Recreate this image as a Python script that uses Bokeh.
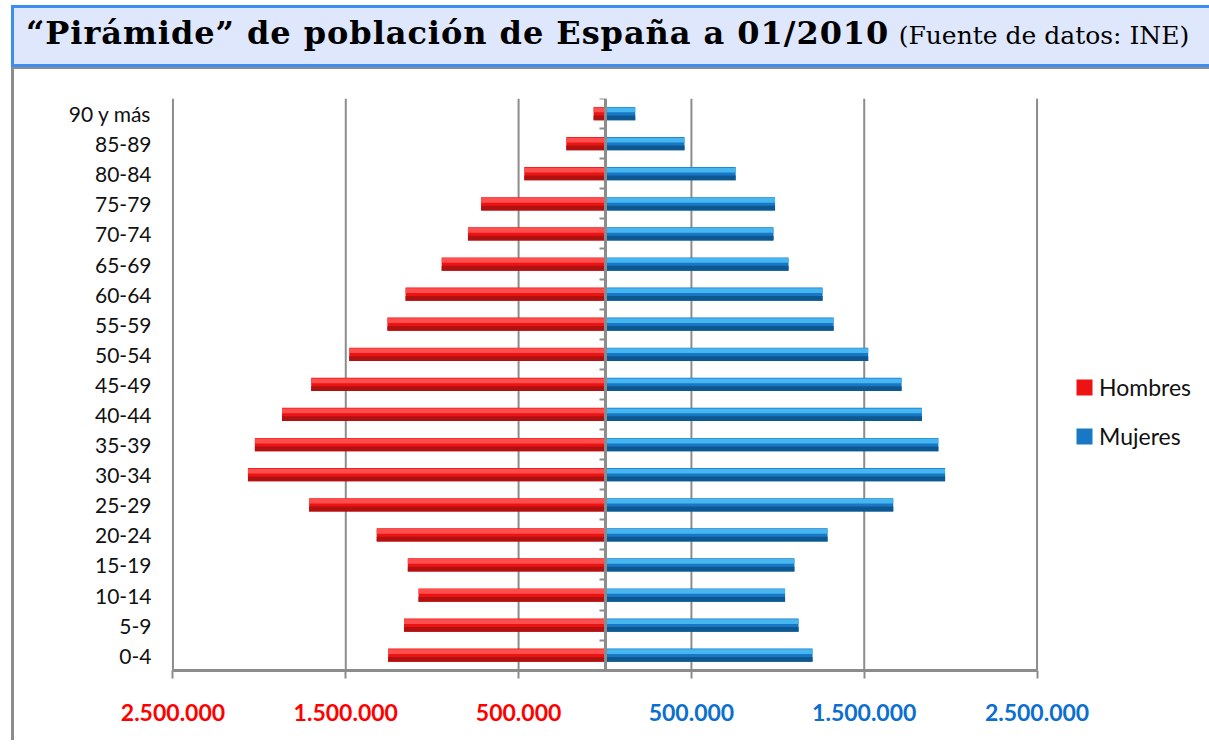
import numpy as np
from bokeh.plotting import figure
from bokeh.models import (ColumnDataSource, FixedTicker, LinearAxis, Range1d, Div,
                          Legend, LegendItem, CustomJSTickFormatter)
from bokeh.core.properties import value
from bokeh.layouts import column
from bokeh.embed import file_html
from bokeh.resources import INLINE

# ---------------- data ----------------
age_groups = ["0-4", "5-9", "10-14", "15-19", "20-24", "25-29", "30-34", "35-39",
              "40-44", "45-49", "50-54", "55-59", "60-64", "65-69", "70-74",
              "75-79", "80-84", "85-89", "90 y más"]
hombres = [1255000, 1163000, 1079000, 1141000, 1321000, 1712000, 2066000, 2026000,
           1869000, 1700000, 1480000, 1259000, 1154000, 945000, 793000, 717000,
           467000, 224000, 66000]
mujeres = [1201000, 1120000, 1042000, 1096000, 1288000, 1668000, 1968000, 1929000,
           1834000, 1716000, 1523000, 1323000, 1259000, 1062000, 975000, 984000,
           756000, 460000, 175000]
x_ticks = [-2500000, -1500000, -500000, 500000, 1500000, 2500000]
x_tick_labels = ["2.500.000", "1.500.000", "500.000", "500.000", "1.500.000", "2.500.000"]
series_names = ["Hombres", "Mujeres"]
title_main = "“Pirámide” de población de España a 01/2010"
title_sub = "(Fuente de datos: INE)"

# ---------------- styles ----------------
RED = ("#ff4e4e", "#ee1313", "#b01212")
BLUE = ("#45b6f0", "#1878c6", "#0e5892")
GRAY = "#8c8c8c"
FONT = "Lato"

n = len(age_groups)
y = np.arange(n)
h = 0.44
y_lo, y_hi = -0.5, n - 0.5          # extent of the category area
label_row = -1.9                    # where the value labels sit, below the axis

men = np.array(hombres, dtype=float)
women = np.array(mujeres, dtype=float)

src = ColumnDataSource(dict(
    y=y, y_top=y + h * 0.27, y_bot=y - h * 0.32,
    m_left=-men, m_right=np.zeros(n),
    w_left=np.zeros(n), w_right=women,
))

p = figure(frame_width=868, frame_height=642,
           min_border_left=155, min_border_right=169,
           min_border_top=29, min_border_bottom=0,
           x_range=Range1d(-2520000, 2520000), y_range=Range1d(-2.9, y_hi),
           output_backend="svg", toolbar_location=None,
           background_fill_color="white", border_fill_color="white",
           margin=(0, 0, 0, 11))
p.outline_line_color = None
p.styles = {"border-left": "3px solid #8c8c8c", "border-top": "2px solid #8c8c8c"}
p.xgrid.visible = False
p.ygrid.visible = False

# vertical gridlines, only across the category area
p.segment(x0=x_ticks, y0=[y_lo] * len(x_ticks), x1=x_ticks, y1=[y_hi] * len(x_ticks),
          line_color=GRAY, line_width=2)

# bars: men
r_m = p.hbar(y="y", left="m_left", right="m_right", height=h, source=src,
             fill_color=RED[1], line_color=None)
p.hbar(y="y_top", left="m_left", right="m_right", height=h * 0.36, source=src,
       fill_color=RED[0], line_color=None)
p.hbar(y="y_bot", left="m_left", right="m_right", height=h * 0.36, source=src,
       fill_color=RED[2], line_color=None)
# bars: women
r_w = p.hbar(y="y", left="w_left", right="w_right", height=h, source=src,
             fill_color=BLUE[1], line_color=None)
p.hbar(y="y_top", left="w_left", right="w_right", height=h * 0.36, source=src,
       fill_color=BLUE[0], line_color=None)
p.hbar(y="y_bot", left="w_left", right="w_right", height=h * 0.36, source=src,
       fill_color=BLUE[2], line_color=None)

# bottom axis: line and ticks at the bottom of the category area
xa = p.xaxis[0]
xa.fixed_location = y_lo
xa.bounds = (x_ticks[0], x_ticks[-1])
xa.ticker = FixedTicker(ticks=x_ticks)
xa.formatter = CustomJSTickFormatter(code="return ''")
xa.axis_line_color = GRAY
xa.axis_line_width = 3
xa.major_tick_line_color = GRAY
xa.major_tick_line_width = 2
xa.major_tick_out = 8
xa.major_tick_in = 0
xa.minor_tick_line_color = None
xa.major_label_standoff = 0

# value labels: red for the men's side, blue for the women's side
lab_src = ColumnDataSource(dict(
    x=x_ticks, y=[label_row] * len(x_ticks), text=x_tick_labels,
    color=["#ff0000" if t < 0 else "#0a6fd0" for t in x_ticks]))
p.text(x="x", y="y", text="text", source=lab_src, text_color="color",
       text_align="center", text_baseline="middle",
       text_font=value(FONT), text_font_style="bold", text_font_size="23px",
       level="overlay")

# category axis on the left
ya = p.yaxis[0]
ya.ticker = FixedTicker(ticks=list(range(n)))
ya.major_label_overrides = {i: g for i, g in enumerate(age_groups)}
ya.axis_line_color = None
ya.major_tick_line_color = None
ya.minor_tick_line_color = None
ya.major_tick_out = 0
ya.major_tick_in = 0
ya.major_label_standoff = 18
ya.major_label_text_font = FONT
ya.major_label_text_font_size = "21px"
ya.major_label_text_color = "#111111"

# zero axis with ticks between categories
za = LinearAxis(fixed_location=0, bounds=(y_lo, y_hi),
                ticker=FixedTicker(ticks=list(np.arange(n + 1) - 0.5)),
                formatter=CustomJSTickFormatter(code="return ''"))
za.axis_line_color = GRAY
za.axis_line_width = 3
za.major_tick_line_color = GRAY
za.major_tick_line_width = 2
za.major_tick_out = 6
za.major_tick_in = 0
za.minor_tick_line_color = None
za.major_label_standoff = 0
p.add_layout(za, "left")

# legend
legend = Legend(items=[LegendItem(label=series_names[0], renderers=[r_m]),
                       LegendItem(label=series_names[1], renderers=[r_w])],
                location=(34, 292), orientation="vertical")
legend.border_line_color = None
legend.background_fill_alpha = 0
legend.glyph_width = 20
legend.glyph_height = 20
legend.label_height = 22
legend.spacing = 21
legend.label_standoff = 5
legend.padding = 0
legend.margin = 0
legend.label_text_font = FONT
legend.label_text_font_size = "23px"
legend.label_text_color = "#111111"
p.add_layout(legend, "right")

title_html = ('<span style="position:relative;top:0px;font-family:\'DejaVu Serif\';'
              'font-weight:bold;font-size:32px;letter-spacing:0.95px;">' + title_main + '</span> '
              '<span style="position:relative;top:0px;font-family:\'DejaVu Serif\';'
              'font-size:25px;margin-left:6px;">' + title_sub + '</span>')
title_div = Div(text=title_html, width=1198, height=62, margin=(5, 0, 0, 11),
                styles={"background-color": "#dee7fb",
                        "border-top": "3px solid #3d8ef0",
                        "border-left": "3px solid #3d8ef0",
                        "border-bottom": "3px solid #3d8ef0",
                        "padding-left": "12px",
                        "padding-top": "3px",
                        "white-space": "nowrap",
                        "overflow": "hidden",
                        "color": "#000000"})

layout = column(title_div, p, spacing=0)
open("out.html", "w").write(file_html(layout, INLINE))
